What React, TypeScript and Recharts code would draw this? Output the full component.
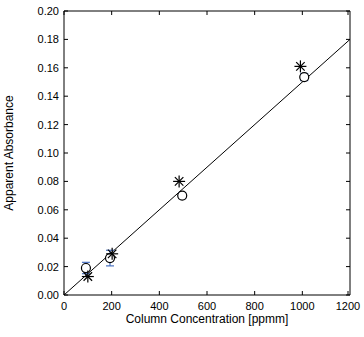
import React from 'react';
import { ComposedChart, XAxis, YAxis, Scatter, Line, ErrorBar, Label } from 'recharts';

const xTicks = [0, 200, 400, 600, 800, 1000, 1200];
const yTicks = [0, 0.02, 0.04, 0.06, 0.08, 0.1, 0.12, 0.14, 0.16, 0.18, 0.2];

const circleX = [92, 193, 496, 1008];
const circleY = [0.019, 0.026, 0.07, 0.1535];
const circleErr = [0.004, 0.0055, 0.002, 0.0025];

const starX = [100, 202, 483, 992];
const starY = [0.013, 0.029, 0.08, 0.161];

const fitX = [0, 1200];
const fitY = [0, 0.18];

const circles = circleX.map((x, i) => ({ x, y: circleY[i], err: circleErr[i] }));
const stars = starX.map((x, i) => ({ x, y: starY[i] }));
const fit = fitX.map((x, i) => ({ x, y: fitY[i] }));

const FONT = 'Liberation Sans, Arial, sans-serif';

const XTick = (props: any) => {
  const { x, y, payload } = props;
  return (
    <g>
      <line x1={x} y1={y} x2={x} y2={y - 4} stroke="#000" />
      <text x={x} y={y + 15} textAnchor="middle" fontSize={11} fill="#000" fontFamily={FONT}>
        {payload.value}
      </text>
    </g>
  );
};
const XTopTick = (props: any) => {
  const { x, y } = props;
  return <line x1={x} y1={y} x2={x} y2={y + 4} stroke="#000" />;
};
const YTick = (props: any) => {
  const { x, y, payload } = props;
  return (
    <g>
      <line x1={x} y1={y} x2={x + 4} y2={y} stroke="#000" />
      <text x={x - 5} y={y + 4} textAnchor="end" fontSize={11} fill="#000" fontFamily={FONT}>
        {Number(payload.value).toFixed(2)}
      </text>
    </g>
  );
};
const YRightTick = (props: any) => {
  const { x, y } = props;
  return <line x1={x} y1={y} x2={x - 4} y2={y} stroke="#000" />;
};

const Circle = (props: any) => {
  const { cx, cy } = props;
  return <circle cx={cx} cy={cy} r={4.5} fill="#fff" stroke="#000" strokeWidth={1.2} />;
};
const Star = (props: any) => {
  const { cx, cy } = props;
  const r = 6;
  const lines = [0, 45, 90, 135].map((a) => {
    const rad = (a * Math.PI) / 180;
    const dx = Math.cos(rad) * r;
    const dy = Math.sin(rad) * r;
    return <line key={a} x1={cx - dx} y1={cy - dy} x2={cx + dx} y2={cy + dy} stroke="#000" strokeWidth={1.2} />;
  });
  return <g>{lines}</g>;
};

export default function App() {
  return (
    <div style={{ position: 'absolute', left: 0, top: 0, fontFamily: FONT }}>
      <ComposedChart width={364} height={337} margin={{ top: 10, right: 13, bottom: 0, left: 0 }}>
        <XAxis
          xAxisId="b"
          type="number"
          dataKey="x"
          domain={[0, 1200]}
          ticks={xTicks}
          tickSize={0}
          tickMargin={0}
          tickLine={false}
          tick={<XTick />}
          axisLine={{ stroke: '#000' }}
          height={42}
          allowDataOverflow
        >
          <Label
            content={() => (
              <text x={207} y={323} textAnchor="middle" fontSize={12} fill="#000" fontFamily={FONT}>
                Column Concentration [ppmm]
              </text>
            )}
          />
        </XAxis>
        <XAxis
          xAxisId="t"
          orientation="top"
          type="number"
          dataKey="x"
          domain={[0, 1200]}
          ticks={xTicks}
          tickSize={0}
          tickMargin={0}
          tickLine={false}
          tick={<XTopTick />}
          axisLine={{ stroke: '#000' }}
          height={1}
          allowDataOverflow
        />
        <YAxis
          yAxisId="l"
          type="number"
          domain={[0, 0.2]}
          ticks={yTicks}
          tickSize={0}
          tickMargin={0}
          tickLine={false}
          tick={<YTick />}
          axisLine={{ stroke: '#000' }}
          width={64}
          allowDataOverflow
        >
          <Label
            content={() => (
              <text x={13} y={153} transform="rotate(-90 13 153)" textAnchor="middle" fontSize={12} fill="#000" fontFamily={FONT}>
                Apparent Absorbance
              </text>
            )}
          />
        </YAxis>
        <YAxis
          yAxisId="r"
          orientation="right"
          type="number"
          domain={[0, 0.2]}
          ticks={yTicks}
          tickSize={0}
          tickMargin={0}
          tickLine={false}
          tick={<YRightTick />}
          axisLine={{ stroke: '#000' }}
          width={1}
          allowDataOverflow
        />
        <Line
          xAxisId="b"
          yAxisId="l"
          data={fit}
          dataKey="y"
          type="linear"
          stroke="#000"
          strokeWidth={1}
          dot={false}
          isAnimationActive={false}
        />
        <Line
          xAxisId="t"
          yAxisId="r"
          data={fit}
          dataKey="y"
          type="linear"
          stroke="none"
          dot={false}
          isAnimationActive={false}
        />
        <Scatter xAxisId="b" yAxisId="l" data={circles} dataKey="y" shape={<Circle />} isAnimationActive={false}>
          <ErrorBar dataKey="err" direction="y" width={4} stroke="#4a72c0" strokeWidth={1.2} />
        </Scatter>
        <Scatter xAxisId="b" yAxisId="l" data={stars} dataKey="y" shape={<Star />} isAnimationActive={false} />
      </ComposedChart>
    </div>
  );
}
